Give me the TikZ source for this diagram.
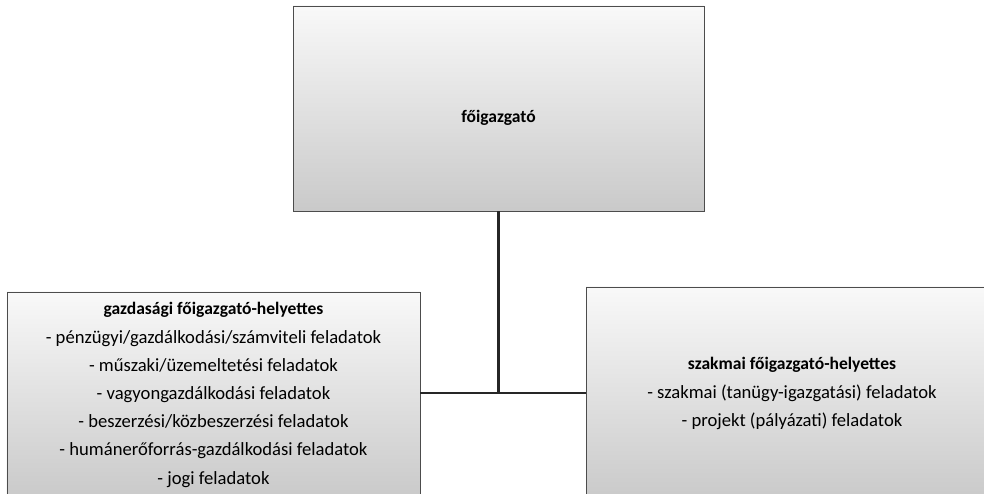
\documentclass[tikz,border=0pt]{standalone}
\usepackage{fontspec}
\setmainfont{Carlito}
\newcommand{\boxtitle}[1]{{\fontsize{17.6}{28.2}\selectfont\bfseries #1}}
\begin{document}
\begin{tikzpicture}[x=1bp,y=-1bp,
  orgbox/.style={draw=black!70, line width=0.8bp, rectangle, inner sep=0pt,
    top color=gray!5, bottom color=gray!42, align=center,
    font=\fontsize{18.7}{28.3}\selectfont},
  conn/.style={draw=black!85, line width=2.8bp}]
\clip (0,0) rectangle (984,494);
\fill[white] (0,0) rectangle (984,494);
\node[orgbox, minimum width=411bp, minimum height=205bp] (top) at (498.5,108.5)
  {\raisebox{-14bp}[0pt][0pt]{\boxtitle{főigazgató}}};
\node[orgbox, minimum width=413bp, minimum height=206bp] (left) at (213.5,395)
  {\boxtitle{gazdasági főigazgató-helyettes}\\
   - pénzügyi/gazdálkodási/számviteli feladatok\\
   - műszaki/üzemeltetési feladatok\\
   - vagyongazdálkodási feladatok\\
   - beszerzési/közbeszerzési feladatok\\
   - humánerőforrás-gazdálkodási feladatok\\
   - jogi feladatok};
\node[orgbox, minimum width=412bp, minimum height=213bp] (right) at (792,393.5)
  {\boxtitle{szakmai főigazgató-helyettes}\\
   - szakmai (tanügy-igazgatási) feladatok\\
   - projekt (pályázati) feladatok};
\coordinate (j) at (top.south |- 0,393);
\draw[conn] (top.south) -- (j);
\draw[conn] (left.east |- j) -- (j) -- (right.west |- j);
\end{tikzpicture}
\end{document}
